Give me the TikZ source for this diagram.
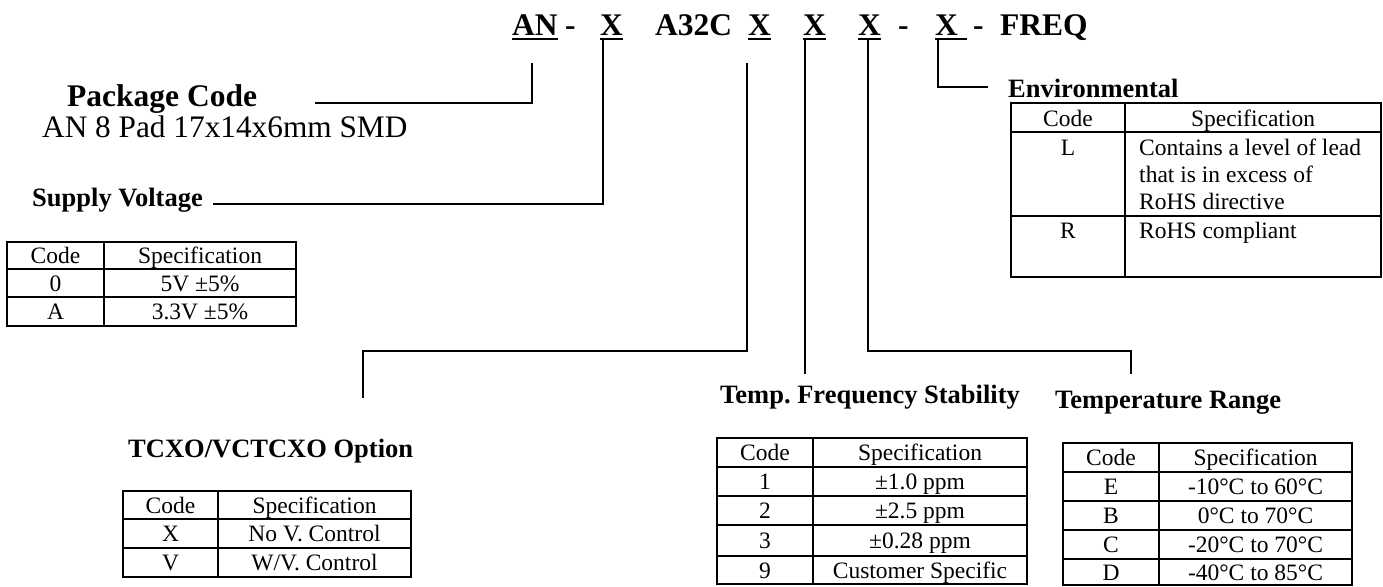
\documentclass[tikz,border=0pt]{standalone}
\usepackage{fontspec}
\setmainfont{Liberation Serif}
\frenchspacing
\begin{document}
\begin{tikzpicture}[x=1pt,y=-1pt,
    code/.style={font=\fontsize{31.5}{36}\bfseries, anchor=base west, inner sep=0pt},
    title/.style={font=\fontsize{26.5}{30}\bfseries, anchor=base west, inner sep=0pt},
    cell/.style={font=\fontsize{23.5}{27}\selectfont, anchor=base, inner sep=0pt},
    conn/.style={line width=2pt},
    uline/.style={line width=2.5pt},
    grid/.style={line width=2pt}]
    \useasboundingbox (0,0) rectangle (1383,586);
    % part number
    \node[code] (an) at (512,36) {AN};
    \node[code] (d1) at (565,36) {-};
    \node[code] (x1) at (600,36) {X};
    \node[code] (a32c) at (655,36) {A32C};
    \node[code] (x2) at (748,36) {X};
    \node[code] (x3) at (803,36) {X};
    \node[code] (x4) at (858,36) {X};
    \node[code] (d2) at (898,36) {-};
    \node[code] (x5) at (935,36) {X};
    \node[code] (d3) at (973,36) {-};
    \node[code] (freq) at (1000,36) {FREQ};
    \foreach \n in {an,x1,x2,x3,x4}
        \draw[uline] ([yshift=-3pt]\n.base west) -- ([yshift=-3pt]\n.base east);
    \draw[uline] ([yshift=-3pt]x5.base west) -- ([yshift=-3pt,xshift=9pt]x5.base east);
    % titles
    \node[code] (pkg) at (67,106) {Package Code};
    \node[anchor=base west, inner sep=0pt, font=\fontsize{31.3}{36}\selectfont] (pkg-txt) at (42,137) {AN 8 Pad 17x14x6mm SMD};
    \node[title] (sv) at (32,206) {Supply Voltage};
    \node[title] (tc) at (128,457) {TCXO/VCTCXO Option};
    \node[title] (tfs) at (720,403) {Temp. Frequency Stability};
    \node[title] (tr) at (1055,408) {Temperature Range};
    \node[title] (env) at (1008,97) {Environmental};
    % connectors
    \coordinate (an-tap) at (532,63);
    \coordinate (x1-tap) at (603,40);
    \coordinate (x2-tap) at (747,63);
    \coordinate (x3-tap) at (805,40);
    \coordinate (x4-tap) at (868,40);
    \coordinate (x5-tap) at (938,40);
    \coordinate (pkg-end) at (315,103);
    \coordinate (sv-end) at (213,204);
    \coordinate (tc-turn) at (363,351);
    \coordinate (tc-end) at (363,398);
    \coordinate (tfs-end) at (805,374);
    \coordinate (tr-turn) at (1131,351);
    \coordinate (tr-end) at (1131,374);
    \coordinate (env-end) at (988,87);
    \draw[conn] (an-tap) |- (pkg-end);
    \draw[conn] (x1-tap) |- (sv-end);
    \draw[conn] (x2-tap) |- (tc-turn) -- (tc-end);
    \draw[conn] (x3-tap) -- (tfs-end);
    \draw[conn] (x4-tap) |- (tr-turn) -- (tr-end);
    \draw[conn] (x5-tap) |- (env-end);
    % supply voltage table
    \draw[grid] (7,242) rectangle (296,326);
    \draw[grid] (104,242) -- (104,326) (7,269) -- (296,269) (7,297) -- (296,297);
    \foreach \c/\s/\y [count=\i] in {Code/Specification/263, 0/{5V ±5\%}/291, A/{3.3V ±5\%}/319}{
        \node[cell] (sv-c\i) at (55.5,\y) {\c};
        \node[cell] (sv-s\i) at (200,\y) {\s};
    }
    % tcxo table
    \draw[grid] (123,491) rectangle (411,577);
    \draw[grid] (218,491) -- (218,577) (123,519) -- (411,519) (123,548) -- (411,548);
    \foreach \c/\s/\y [count=\i] in {Code/Specification/513, X/{No V. Control}/541, V/{W/V. Control}/570}{
        \node[cell] (tc-c\i) at (170.5,\y) {\c};
        \node[cell] (tc-s\i) at (314.5,\y) {\s};
    }
    % stability table
    \draw[grid] (717,438) rectangle (1027,584);
    \draw[grid] (813,438) -- (813,584);
    \foreach \y in {467,496,525,556}
        \draw[grid] (717,\y) -- (1027,\y);
    \foreach \c/\s/\y [count=\i] in {Code/Specification/460, 1/{±1.0 ppm}/489, 2/{±2.5 ppm}/518, 3/{±0.28 ppm}/548, 9/{Customer Specific}/578}{
        \node[cell] (tfs-c\i) at (765,\y) {\c};
        \node[cell] (tfs-s\i) at (920,\y) {\s};
    }
    % temperature table
    \draw[grid] (1063,443) rectangle (1352,585);
    \draw[grid] (1159,443) -- (1159,585);
    \foreach \y in {472,501,530,559}
        \draw[grid] (1063,\y) -- (1352,\y);
    \foreach \c/\s/\y [count=\i] in {Code/Specification/465, E/{-10°C to 60°C}/494, B/{0°C to 70°C}/523, C/{-20°C to 70°C}/552, D/{-40°C to 85°C}/580}{
        \node[cell] (tr-c\i) at (1111,\y) {\c};
        \node[cell] (tr-s\i) at (1255.5,\y) {\s};
    }
    % environmental table
    \draw[grid] (1011,103) rectangle (1381,277);
    \draw[grid] (1125,103) -- (1125,277) (1011,132) -- (1381,132) (1011,216) -- (1381,216);
    \node[cell] (env-c1) at (1068,126) {Code};
    \node[cell] (env-s1) at (1253,126) {Specification};
    \node[cell] (env-c2) at (1068,155) {L};
    \node[cell, anchor=base west] (env-s2a) at (1139,155) {Contains a level of lead};
    \node[cell, anchor=base west] (env-s2b) at (1139,182) {that is in excess of};
    \node[cell, anchor=base west] (env-s2c) at (1139,209) {RoHS directive};
    \node[cell] (env-c3) at (1068,238) {R};
    \node[cell, anchor=base west] (env-s3) at (1139,238) {RoHS compliant};
\end{tikzpicture}
\end{document}
